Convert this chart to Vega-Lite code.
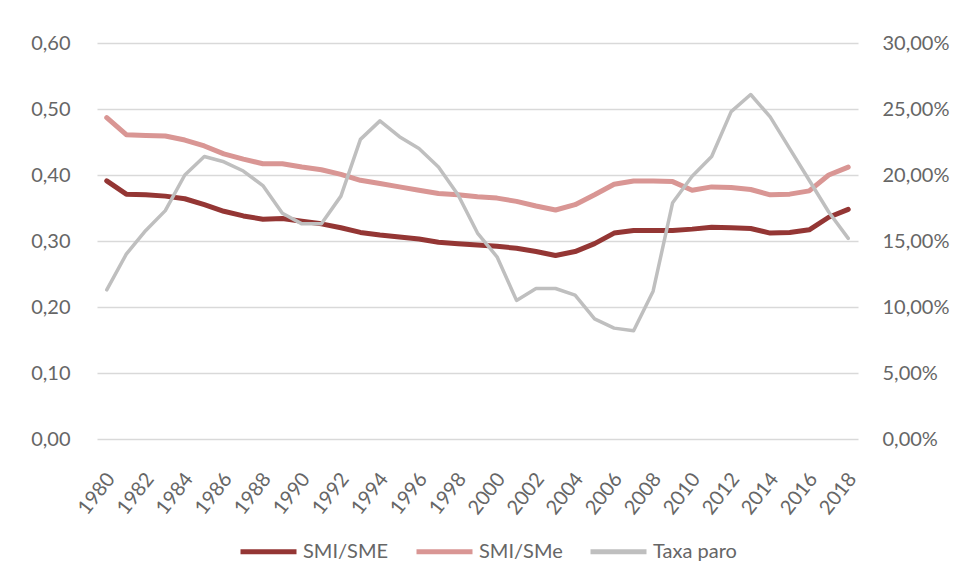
{
  "$schema": "https://vega.github.io/schema/vega-lite/v6.json",
  "autosize": {"type": "none"},
  "width": 761,
  "height": 396,
  "padding": {"left": 97, "top": 43, "right": 99, "bottom": 143},
  "background": "white",
  "config": {
    "locale": {"number": {"decimal": ",", "thousands": ".", "grouping": [3], "currency": ["", " €"]}},
    "view": {"stroke": null},
    "font": "Lato",
    "axis": {"labelFont": "Lato", "labelFontSize": 20, "labelColor": "#666666", "domain": false, "ticks": false, "title": null},
    "legend": {"labelFont": "Lato", "labelFontSize": 20, "labelColor": "#666666"}
  },
  "data": {
    "values": [
      {"year": "1980", "sme": 0.391, "smemed": 0.487, "paro": 0.113},
      {"year": "1981", "sme": 0.371, "smemed": 0.461, "paro": 0.140},
      {"year": "1982", "sme": 0.370, "smemed": 0.460, "paro": 0.158},
      {"year": "1983", "sme": 0.368, "smemed": 0.459, "paro": 0.173},
      {"year": "1984", "sme": 0.364, "smemed": 0.453, "paro": 0.200},
      {"year": "1985", "sme": 0.355, "smemed": 0.444, "paro": 0.214},
      {"year": "1986", "sme": 0.345, "smemed": 0.432, "paro": 0.210},
      {"year": "1987", "sme": 0.338, "smemed": 0.424, "paro": 0.203},
      {"year": "1988", "sme": 0.333, "smemed": 0.417, "paro": 0.192},
      {"year": "1989", "sme": 0.334, "smemed": 0.417, "paro": 0.171},
      {"year": "1990", "sme": 0.330, "smemed": 0.412, "paro": 0.163},
      {"year": "1991", "sme": 0.326, "smemed": 0.408, "paro": 0.163},
      {"year": "1992", "sme": 0.320, "smemed": 0.401, "paro": 0.184},
      {"year": "1993", "sme": 0.313, "smemed": 0.392, "paro": 0.227},
      {"year": "1994", "sme": 0.309, "smemed": 0.387, "paro": 0.241},
      {"year": "1995", "sme": 0.306, "smemed": 0.382, "paro": 0.229},
      {"year": "1996", "sme": 0.303, "smemed": 0.377, "paro": 0.220},
      {"year": "1997", "sme": 0.298, "smemed": 0.372, "paro": 0.206},
      {"year": "1998", "sme": 0.296, "smemed": 0.370, "paro": 0.185},
      {"year": "1999", "sme": 0.294, "smemed": 0.367, "paro": 0.156},
      {"year": "2000", "sme": 0.292, "smemed": 0.365, "paro": 0.138},
      {"year": "2001", "sme": 0.289, "smemed": 0.360, "paro": 0.105},
      {"year": "2002", "sme": 0.284, "smemed": 0.353, "paro": 0.114},
      {"year": "2003", "sme": 0.278, "smemed": 0.347, "paro": 0.114},
      {"year": "2004", "sme": 0.284, "smemed": 0.355, "paro": 0.109},
      {"year": "2005", "sme": 0.296, "smemed": 0.370, "paro": 0.091},
      {"year": "2006", "sme": 0.312, "smemed": 0.386, "paro": 0.084},
      {"year": "2007", "sme": 0.316, "smemed": 0.391, "paro": 0.082},
      {"year": "2008", "sme": 0.316, "smemed": 0.391, "paro": 0.112},
      {"year": "2009", "sme": 0.316, "smemed": 0.390, "paro": 0.179},
      {"year": "2010", "sme": 0.318, "smemed": 0.377, "paro": 0.199},
      {"year": "2011", "sme": 0.321, "smemed": 0.382, "paro": 0.214},
      {"year": "2012", "sme": 0.320, "smemed": 0.381, "paro": 0.248},
      {"year": "2013", "sme": 0.319, "smemed": 0.378, "paro": 0.261},
      {"year": "2014", "sme": 0.312, "smemed": 0.370, "paro": 0.244},
      {"year": "2015", "sme": 0.313, "smemed": 0.371, "paro": 0.220},
      {"year": "2016", "sme": 0.317, "smemed": 0.376, "paro": 0.196},
      {"year": "2017", "sme": 0.336, "smemed": 0.400, "paro": 0.172},
      {"year": "2018", "sme": 0.348, "smemed": 0.412, "paro": 0.152}
    ]
  },
  "layer": [
    {
      "layer": [
        {
          "mark": {"type": "line", "strokeWidth": 5, "strokeJoin": "round", "strokeCap": "round"},
          "encoding": {
            "x": {
              "field": "year", "type": "ordinal",
              "scale": {"type": "point", "padding": 0.5},
              "axis": {
                "values": ["1980","1982","1984","1986","1988","1990","1992","1994","1996","1998","2000","2002","2004","2006","2008","2010","2012","2014","2016","2018"],
                "labelAngle": -52, "labelAlign": "right", "labelBaseline": "top", "labelPadding": 30, "labelOffset": -4, "grid": false
              }
            },
            "y": {"field": "sme", "type": "quantitative",
              "scale": {"domain": [0, 0.6], "nice": false},
              "axis": {"values": [0, 0.1, 0.2, 0.3, 0.4, 0.5, 0.6], "format": ".2f", "grid": true, "gridColor": "#D9D9D9", "gridWidth": 1.5, "labelPadding": 27, "orient": "left"}},
            "color": {"datum": "SMI/SME", "type": "nominal",
              "scale": {"domain": ["SMI/SME", "SMI/SMe", "Taxa paro"], "range": ["#943634", "#D99694", "#BFBFBF"]},
              "legend": {"title": null, "orient": "none", "legendX": 141, "legendY": 478, "direction": "horizontal",
                "symbolType": "stroke", "symbolSize": 3136, "symbolStrokeWidth": 5, "labelOffset": 4, "columnPadding": 17}}
          }
        },
        {
          "mark": {"type": "line", "strokeWidth": 5, "strokeJoin": "round", "strokeCap": "round"},
          "encoding": {
            "x": {"field": "year", "type": "ordinal"},
            "y": {"field": "smemed", "type": "quantitative"},
            "color": {"datum": "SMI/SMe", "type": "nominal"}
          }
        }
      ]
    },
    {
      "mark": {"type": "line", "strokeWidth": 3.5, "strokeJoin": "round", "strokeCap": "round"},
      "encoding": {
        "x": {"field": "year", "type": "ordinal"},
        "y": {"field": "paro", "type": "quantitative",
          "scale": {"domain": [0, 0.3], "nice": false},
          "axis": {"values": [0, 0.05, 0.1, 0.15, 0.2, 0.25, 0.3], "format": ".2%", "grid": false, "labelPadding": 24, "orient": "right"}},
        "color": {"datum": "Taxa paro", "type": "nominal"}
      }
    }
  ],
  "resolve": {"scale": {"y": "independent"}}
}
